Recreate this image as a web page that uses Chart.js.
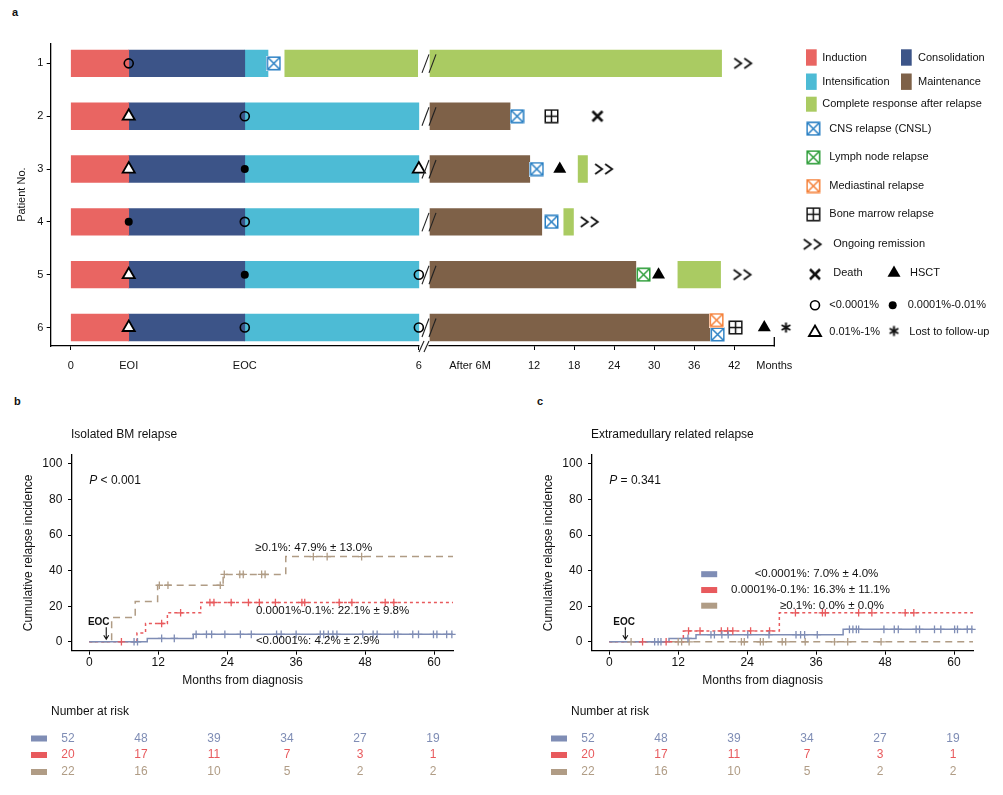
<!DOCTYPE html>
<html>
<head>
<meta charset="utf-8">
<title>MRD swimmer plot and cumulative relapse incidence</title>
<script src="https://cdn.jsdelivr.net/npm/chart.js@4.4.1/dist/chart.umd.min.js"></script>
<style>
  html, body { margin: 0; padding: 0; background: #fff; }
  body { width: 1003px; height: 795px; position: relative; overflow: hidden; font-family: 'Liberation Sans', Arial, sans-serif; }
  .box { position: absolute; }
  .tag { position: absolute; font-size: 11px; font-weight: bold; color: #111; }
</style>
</head>
<body>
<div class="tag" style="left:12px;top:6px">a</div>
<div class="tag" style="left:14px;top:395px">b</div>
<div class="tag" style="left:537px;top:395px">c</div>
<div class="box" style="left:0;top:0"><canvas id="swimEarly" width="432" height="390"></canvas></div>
<div class="box" style="left:414px;top:0"><canvas id="swimLate" width="589" height="390"></canvas></div>
<div class="box" style="left:0;top:390px"><canvas id="bmChart" width="500" height="405"></canvas></div>
<div class="box" style="left:520px;top:390px"><canvas id="emChart" width="483" height="405"></canvas></div>
<script>
// ---------- panel a: swimmer plot ----------
const patients = [1, 2, 3, 4, 5, 6];
const phaseTicks = [0, 1, 3, 6];
const phaseTickLabels = ['0', 'EOI', 'EOC', '6'];
const monthTicks = [2.4, 12, 18, 24, 30, 36, 42, 48];
const monthTickLabels = ['After 6M', '12', '18', '24', '30', '36', '42', 'Months'];

// [start, end, patient] - first 6 months, phase scale
const induction = [[0, 1, 1], [0, 1, 2], [0, 1, 3], [0, 1, 4], [0, 1, 5], [0, 1, 6]];
const consolidation = [[1, 3, 1], [1, 3, 2], [1, 3, 3], [1, 3, 4], [1, 3, 5], [1, 3, 6]];
const intensification = [[3, 3.4, 1], [3, 6, 2], [3, 6, 3], [3, 6, 4], [3, 6, 5], [3, 6, 6]];
const crEarly = [[3.69, 5.98, 1]];
// after 6 months, in months
const maintenance = [[-3.6, 8.4, 2], [-3.6, 11.35, 3], [-3.6, 13.15, 4], [-3.6, 27.25, 5], [-3.6, 38.35, 6]];
const crLate = [[-3.6, 40.1, 1], [18.6, 20.0, 3], [16.45, 17.9, 4], [33.55, 39.95, 5]];

// [time, patient]
const mrdNeg = [[1, 1], [3, 2], [3, 4], [6, 5], [3, 6], [6, 6]];   // <0.0001%
const mrdLow = [[3, 3], [1, 4], [3, 5]];                             // 0.0001%-0.01%
const mrdMid = [[1, 2], [1, 3], [6, 3], [1, 5], [1, 6]];             // 0.01%-1%
const cnsEarly = [[3.5, 1]];
const cnsLate = [[9.45, 2], [12.4, 3], [14.6, 4], [39.5, 6.13]];
const lymphLate = [[28.4, 5]];
const mediastinalLate = [[39.35, 5.86]];
const marrowLate = [[14.6, 2], [42.2, 6]];
const deathLate = [[21.5, 2]];
const hsctLate = [[15.85, 3], [30.65, 5], [46.5, 6]];
const ongoingLate = [[43.35, 1], [22.5, 3], [20.35, 4], [43.25, 5]];
const lostLate = [[49.75, 6]];

// ---------- panels b, c: cumulative relapse incidence ----------
const kmTicks = [0, 12, 24, 36, 48, 60];
const pctTicks = [0, 20, 40, 60, 80, 100];

// [month, %] step points
const bmLow = [[0, 0], [10.1, 1.9], [18.1, 4.2], [63.3, 4.2]];
const bmMid = [[0, 0], [8.3, 5.0], [9.8, 10.3], [13.6, 16.3], [19.4, 22.1], [63.3, 22.1]];
const bmHigh = [[0, 0], [3.9, 13.6], [8.0, 22.7], [11.9, 31.8], [23.3, 37.9], [34.2, 47.9], [63.3, 47.9]];
const bmLowCens = [[7.8, 0], [8.4, 0], [12.6, 1.9], [14.8, 1.9], [18.6, 4.2], [20.4, 4.2], [21.3, 4.2], [23.6, 4.2],
  [26.3, 4.2], [28.2, 4.2], [32.6, 4.2], [33.4, 4.2], [36.0, 4.2], [40.2, 4.2], [40.8, 4.2], [41.6, 4.2], [42.4, 4.2],
  [43.1, 4.2], [47.6, 4.2], [49.4, 4.2], [50.1, 4.2], [53.1, 4.2], [53.7, 4.2], [56.3, 4.2], [57.3, 4.2], [59.9, 4.2],
  [60.5, 4.2], [62.2, 4.2], [63.1, 4.2]];
const bmMidCens = [[5.6, 0], [12.6, 10.3], [15.9, 16.3], [21.0, 22.1], [21.7, 22.1], [24.7, 22.1], [27.7, 22.1],
  [29.6, 22.1], [32.4, 22.1], [37.0, 22.1], [37.5, 22.1], [43.5, 22.1], [45.7, 22.1], [51.5, 22.1], [53.0, 22.1]];
const bmHighCens = [[12.2, 31.8], [13.7, 31.8], [22.8, 31.8], [23.5, 37.9], [26.2, 37.9], [26.8, 37.9], [30.0, 37.9],
  [30.6, 37.9], [39.0, 47.9], [41.4, 47.9], [47.4, 47.9]];

const emLow = [[0, 0], [10.4, 1.9], [15.1, 4.0], [40.7, 7.0], [63.3, 7.0]];
const emMid = [[0, 0], [12.9, 6.1], [29.6, 16.3], [63.3, 16.3]];
const emHigh = [[0, 0], [63.3, 0]];
const emLowCens = [[7.9, 0], [8.5, 0], [9.0, 0], [13.7, 1.9], [17.7, 4.0], [18.3, 4.0], [19.6, 4.0], [20.7, 4.0],
  [24.1, 4.0], [27.8, 4.0], [32.5, 4.0], [33.3, 4.0], [34.0, 4.0], [36.2, 4.0], [41.8, 7.0], [42.4, 7.0], [43.0, 7.0],
  [43.4, 7.0], [47.8, 7.0], [49.6, 7.0], [50.3, 7.0], [53.4, 7.0], [54.0, 7.0], [56.6, 7.0], [57.7, 7.0], [60.1, 7.0],
  [60.6, 7.0], [62.3, 7.0], [63.1, 7.0]];
const emMidCens = [[5.8, 0], [9.9, 0], [13.8, 6.1], [15.8, 6.1], [19.5, 6.1], [20.6, 6.1], [21.5, 6.1], [24.6, 6.1],
  [27.9, 6.1], [32.4, 16.3], [37.1, 16.3], [37.6, 16.3], [43.4, 16.3], [45.7, 16.3], [51.5, 16.3], [53.0, 16.3]];
const emHighCens = [[3.8, 0], [12.0, 0], [12.6, 0], [13.9, 0], [23.0, 0], [23.5, 0], [26.3, 0], [26.8, 0], [30.1, 0],
  [30.7, 0], [34.1, 0], [39.2, 0], [41.5, 0], [47.3, 0]];

const riskLow = [52, 48, 39, 34, 27, 19];
const riskMid = [20, 17, 11, 7, 3, 1];
const riskHigh = [22, 16, 10, 5, 2, 2];

// ---------- styling ----------
const FONT = "'Liberation Sans', Arial, sans-serif";
const INK = '#111';
const COL = {
  induction: '#E96562', consolidation: '#3C5488', intens: '#4DBBD5', maint: '#7E6148', cr: '#AACB62',
  cns: '#2A80C4', lymph: '#2E9E3A', mediastinal: '#F5813A',
  low: '#7F8DB5', mid: '#E85A5D', high: '#B09C85'
};
Chart.defaults.font.family = FONT;
Chart.defaults.color = INK;

function icon(w, h, draw) {
  const c = document.createElement('canvas');
  c.width = w; c.height = h;
  draw(c.getContext('2d'), w, h);
  return c;
}
const boxIcon = (col, plus) => icon(15, 15, g => {
  g.fillStyle = '#fff'; g.fillRect(0, 0, 15, 15);
  g.strokeStyle = col; g.lineWidth = 1.5;
  g.strokeRect(1.25, 1.25, 12.5, 12.5);
  g.beginPath();
  if (plus) { g.moveTo(7.5, 1.5); g.lineTo(7.5, 13.5); g.moveTo(1.5, 7.5); g.lineTo(13.5, 7.5); }
  else { g.moveTo(1.5, 1.5); g.lineTo(13.5, 13.5); g.moveTo(13.5, 1.5); g.lineTo(1.5, 13.5); }
  g.stroke();
});
const ICON = {
  cns: boxIcon(COL.cns), lymph: boxIcon(COL.lymph), mediastinal: boxIcon(COL.mediastinal), marrow: boxIcon('#111', true),
  ongoing: icon(22, 14, g => {
    g.strokeStyle = '#111'; g.lineWidth = 1.8; g.beginPath();
    g.moveTo(2, 2); g.lineTo(9, 7); g.lineTo(2, 12);
    g.moveTo(12, 2); g.lineTo(19, 7); g.lineTo(12, 12); g.stroke();
  }),
  death: icon(14, 14, g => {
    g.strokeStyle = '#111'; g.lineWidth = 2.6; g.beginPath();
    g.moveTo(2, 2); g.lineTo(12, 12); g.moveTo(12, 2); g.lineTo(2, 12); g.stroke();
  }),
  lost: icon(13, 13, g => {
    g.strokeStyle = '#111'; g.lineWidth = 2; g.beginPath();
    for (let k = 0; k < 3; k++) {
      const a = Math.PI / 2 + k * Math.PI / 3;
      g.moveTo(6.5 + 5 * Math.cos(a), 6.5 + 5 * Math.sin(a));
      g.lineTo(6.5 - 5 * Math.cos(a), 6.5 - 5 * Math.sin(a));
    }
    g.stroke();
  })
};

const spanSet = (spans, color) => ({
  type: 'bar', order: 2, data: spans.map(s => ({x: [s[0], s[1]], y: s[2]})),
  backgroundColor: color, borderWidth: 0, barThickness: 26.7, grouped: false
});
const markSet = (pts, style) => Object.assign({
  type: 'scatter', order: 1, clip: false, data: pts.map(p => ({x: p[0], y: p[1]})),
  pointRadius: 5, pointBorderWidth: 0, pointHoverRadius: 5
}, style);
const openCircle = {pointStyle: 'circle', pointRadius: 4.5, pointBorderWidth: 1.6, pointBorderColor: '#000', pointBackgroundColor: 'rgba(0,0,0,0)'};
const dot = {pointStyle: 'circle', pointRadius: 4, pointBackgroundColor: '#000'};
const openTri = {pointStyle: 'triangle', pointRadius: 7, pointBorderWidth: 1.8, pointBorderColor: '#000', pointBackgroundColor: '#fff'};
const solidTri = {pointStyle: 'triangle', pointRadius: 7.5, pointBackgroundColor: '#000'};

const fixedTicks = vals => s => { s.ticks = vals.map(v => ({value: v})); };
const yRows = {
  type: 'linear', reverse: true, min: 0.62, max: 6.35, offset: false,
  afterBuildTicks: fixedTicks(patients),
  ticks: {font: {size: 11}, padding: 3.4},
  grid: {drawOnChartArea: false, offset: false, tickLength: 4, color: '#000'},
  border: {color: '#000', width: 1.3},
  title: {display: true, text: 'Patient No.', font: {size: 11}, padding: {top: 15.4, bottom: 0}},
  afterFit: s => { s.width = 50.7; }
};

new Chart(document.getElementById('swimEarly'), {
  type: 'bar',
  data: {datasets: [
    markSet(mrdNeg, openCircle), markSet(mrdLow, dot), markSet(mrdMid, openTri),
    markSet(cnsEarly, {pointStyle: ICON.cns}),
    spanSet(induction, COL.induction), spanSet(consolidation, COL.consolidation),
    spanSet(intensification, COL.intens), spanSet(crEarly, COL.cr)
  ]},
  options: {
    responsive: false, animation: false, indexAxis: 'y',
    layout: {autoPadding: false, padding: {top: 43.3, left: 0, right: 12, bottom: 0}},
    plugins: {legend: {display: false}, tooltip: {enabled: false}},
    scales: {
      x: {
        type: 'linear', min: -0.345, max: 6.02,
        afterBuildTicks: fixedTicks(phaseTicks),
        ticks: {callback: (v, i) => phaseTickLabels[i], font: {size: 11}, padding: 9.4, maxRotation: 0, autoSkip: false},
        grid: {drawOnChartArea: false, tickLength: 4,
          color: c => (c.tick && (c.tick.value === 0 || c.tick.value === 6)) ? '#000' : 'rgba(0,0,0,0)'},
        border: {color: '#000', width: 1.3},
        afterFit: s => { s.height = 44; }
      },
      y: yRows
    }
  }
});

const LATE_X0 = 414;
const lateDecor = {
  id: 'lateDecor',
  afterDatasetsDraw(chart) {
    const {ctx, chartArea: area, scales: {x, y}} = chart;
    ctx.save();
    ctx.strokeStyle = '#222';
    ctx.lineWidth = 1.1;
    patients.forEach(p => {
      const cy = y.getPixelForValue(p);
      [2, 9].forEach(dx => {
        ctx.beginPath();
        ctx.moveTo(area.left + dx, cy + 9.5);
        ctx.lineTo(area.left + dx + 7, cy - 9);
        ctx.stroke();
      });
    });
    // axis break and end bracket
    const by = area.bottom;
    ctx.fillStyle = '#fff';
    ctx.fillRect(area.left - 0.5, by - 2, 9, 4);
    [-1, 4].forEach(dx => {
      ctx.beginPath();
      ctx.moveTo(area.left + dx, by + 6);
      ctx.lineTo(area.left + dx + 5, by - 5);
      ctx.stroke();
    });
    const ex = x.getPixelForValue(48);
    ctx.strokeStyle = '#000';
    ctx.lineWidth = 1.3;
    ctx.beginPath();
    ctx.moveTo(ex, by + 0.6);
    ctx.lineTo(ex, by - 9);
    ctx.stroke();
    ctx.restore();
  },
  afterDraw(chart) {
    const ctx = chart.ctx;
    const o = -LATE_X0;
    ctx.save();
    ctx.font = `11px ${FONT}`;
    ctx.fillStyle = INK;
    ctx.textBaseline = 'middle';
    ctx.textAlign = 'left';
    const swatches = [
      [806, 49.3, 16.4, COL.induction, 'Induction', 822.3, 57.5],
      [901, 49.3, 16.4, COL.consolidation, 'Consolidation', 918, 57.5],
      [806, 73.5, 16.4, COL.intens, 'Intensification', 822.3, 81.7],
      [901, 73.5, 16.4, COL.maint, 'Maintenance', 918, 81.7],
      [806, 96.7, 15, COL.cr, 'Complete response after relapse', 822.3, 104]
    ];
    swatches.forEach(s => {
      ctx.fillStyle = s[3];
      ctx.fillRect(s[0] + o, s[1], 10.7, s[2]);
      ctx.fillStyle = INK;
      ctx.fillText(s[4], s[5] + o, s[6]);
    });
    const icons = [
      [ICON.cns, 813.3, 128.7, 'CNS relapse (CNSL)', 829.3],
      [ICON.lymph, 813.3, 157.3, 'Lymph node relapse', 829.3],
      [ICON.mediastinal, 813.3, 186, 'Mediastinal relapse', 829.3],
      [ICON.marrow, 813.3, 214.3, 'Bone marrow relapse', 829.3],
      [ICON.ongoing, 812.7, 244.3, 'Ongoing remission', 833.3],
      [ICON.death, 815, 274.3, 'Death', 833.3],
      [ICON.lost, 894, 331, 'Lost to follow-up', 909.3]
    ];
    icons.forEach(s => {
      ctx.drawImage(s[0], s[1] + o - s[0].width / 2, s[2] - s[0].height / 2);
      ctx.fillText(s[3], s[4] + o, s[0] === ICON.death ? 272.7 : (s[0] === ICON.lost ? 331.7 : s[2]));
    });
    const tri = (cx, cy, r) => {
      ctx.beginPath();
      for (let k = 0; k < 3; k++) {
        const a = k * 2 * Math.PI / 3;
        const px = cx + Math.sin(a) * r, py = cy - Math.cos(a) * r;
        if (k === 0) ctx.moveTo(px, py); else ctx.lineTo(px, py);
      }
      ctx.closePath();
    };
    // HSCT
    tri(894 + o, 273, 7.5);
    ctx.fillStyle = '#000'; ctx.fill();
    ctx.fillStyle = INK; ctx.fillText('HSCT', 910 + o, 272.7);
    // MRD symbols
    ctx.strokeStyle = '#000';
    ctx.lineWidth = 1.6;
    ctx.beginPath(); ctx.arc(815 + o, 305.3, 4.5, 0, Math.PI * 2); ctx.stroke();
    ctx.fillText('<0.0001%', 829.3 + o, 305.3);
    ctx.beginPath(); ctx.arc(892.7 + o, 305.3, 4, 0, Math.PI * 2); ctx.fillStyle = '#000'; ctx.fill();
    ctx.fillStyle = INK; ctx.fillText('0.0001%-0.01%', 907.7 + o, 305.3);
    tri(815 + o, 332.5, 7);
    ctx.fillStyle = '#fff'; ctx.fill(); ctx.lineWidth = 1.8; ctx.stroke();
    ctx.fillStyle = INK; ctx.fillText('0.01%-1%', 829.3 + o, 331.7);
    ctx.restore();
  }
};

new Chart(document.getElementById('swimLate'), {
  type: 'bar',
  data: {datasets: [
    markSet(mediastinalLate, {pointStyle: ICON.mediastinal}),
    markSet(cnsLate, {pointStyle: ICON.cns}),
    markSet(lymphLate, {pointStyle: ICON.lymph}),
    markSet(marrowLate, {pointStyle: ICON.marrow}),
    markSet(deathLate, {pointStyle: ICON.death}),
    markSet(hsctLate, solidTri),
    markSet(ongoingLate, {pointStyle: ICON.ongoing}),
    // large radius so the mark past the axis end is not culled
    markSet(lostLate, {pointStyle: ICON.lost, pointRadius: 16}),
    spanSet(maintenance, COL.maint), spanSet(crLate, COL.cr)
  ]},
  options: {
    responsive: false, animation: false, indexAxis: 'y',
    layout: {autoPadding: false, padding: {top: 43.3, left: 6, right: 228.7, bottom: 0}},
    plugins: {legend: {display: false}, tooltip: {enabled: false}},
    scales: {
      x: {
        type: 'linear', min: -5.1, max: 48,
        afterBuildTicks: fixedTicks(monthTicks),
        ticks: {callback: (v, i) => monthTickLabels[i], font: {size: 11}, padding: 9.4, maxRotation: 0, autoSkip: false},
        grid: {drawOnChartArea: false, tickLength: 4,
          color: c => (c.tick && c.tick.value >= 12 && c.tick.value <= 42) ? '#000' : 'rgba(0,0,0,0)'},
        border: {color: '#000', width: 1.3},
        afterFit: s => { s.height = 44; }
      },
      y: Object.assign({}, yRows, {display: false, afterFit: s => { s.width = 0; }})
    }
  },
  plugins: [lateDecor]
});

// ---------- KM panels ----------
const stepSet = (pts, color, dash) => ({
  type: 'line', data: pts.map(p => ({x: p[0], y: p[1]})), stepped: true,
  borderColor: color, borderWidth: 1.5, borderDash: dash, borderCapStyle: 'butt',
  pointRadius: 0, fill: false, tension: 0
});
const censSet = (pts, color) => ({
  type: 'scatter', data: pts.map(p => ({x: p[0], y: p[1]})), clip: false,
  pointStyle: 'cross', pointRadius: 3.8, pointBorderWidth: 1.3, pointBorderColor: color, pointBackgroundColor: color
});

function kmText(cfg) {
  return {
    id: 'kmText',
    afterDraw(chart) {
      const {ctx, chartArea: area, scales: {x, y}} = chart;
      ctx.save();
      ctx.fillStyle = INK;
      ctx.textBaseline = 'middle';
      ctx.textAlign = 'left';
      ctx.font = `12px ${FONT}`;
      ctx.fillText(cfg.title, 71, 45);
      const px = x.getPixelForValue(0), py = y.getPixelForValue(90.7);
      ctx.font = `italic 12px ${FONT}`;
      ctx.fillText('P', px, py);
      const w = ctx.measureText('P').width;
      ctx.font = `12px ${FONT}`;
      ctx.fillText(cfg.pText, px + w, py);
      ctx.textAlign = 'center';
      ctx.fillText('Months from diagnosis', x.getPixelForValue(26.7), area.bottom + 30.3);
      // curve annotations
      ctx.textAlign = 'left';
      ctx.font = `11.5px ${FONT}`;
      cfg.notes.forEach(n => {
        if (n[3]) {
          ctx.fillStyle = n[3];
          ctx.fillRect(x.getPixelForValue(16.0), y.getPixelForValue(n[2]) - 3, 16, 6);
          ctx.fillStyle = INK;
        }
        ctx.fillText(n[0], x.getPixelForValue(n[1]), y.getPixelForValue(n[2]));
      });
      // EOC marker
      ctx.font = `bold 10px ${FONT}`;
      ctx.textAlign = 'center';
      ctx.fillText('EOC', x.getPixelForValue(cfg.eocText), y.getPixelForValue(11));
      const ax = x.getPixelForValue(cfg.eocArrow);
      const y1 = y.getPixelForValue(8.2), y2 = y.getPixelForValue(1.4);
      ctx.strokeStyle = INK;
      ctx.lineWidth = 1.1;
      ctx.beginPath();
      ctx.moveTo(ax, y1); ctx.lineTo(ax, y2);
      ctx.moveTo(ax - 2.5, y2 - 4); ctx.lineTo(ax, y2); ctx.lineTo(ax + 2.5, y2 - 4);
      ctx.stroke();
      // number at risk
      ctx.font = `12px ${FONT}`;
      ctx.textAlign = 'left';
      ctx.fillText('Number at risk', 51, 322);
      ctx.textAlign = 'center';
      [[riskLow, COL.low, 348.5], [riskMid, COL.mid, 365], [riskHigh, COL.high, 382]].forEach(r => {
        ctx.fillStyle = r[1];
        ctx.fillRect(31, r[2] - 3, 16, 6);
        r[0].forEach((v, i) => ctx.fillText(String(v), 68 + 73 * i, r[2]));
      });
      ctx.restore();
    }
  };
}

function kmChart(id, cfg, padRight) {
  return new Chart(document.getElementById(id), {
    type: 'scatter',
    data: {datasets: [
      censSet(cfg.cens[0], COL.low), censSet(cfg.cens[1], COL.mid), censSet(cfg.cens[2], COL.high),
      stepSet(cfg.curves[0], COL.low, []), stepSet(cfg.curves[1], COL.mid, [3, 3]), stepSet(cfg.curves[2], COL.high, [7, 5])
    ]},
    options: {
      responsive: false, animation: false,
      layout: {autoPadding: false, padding: {top: 65, left: 0, right: padRight, bottom: 99.3}},
      plugins: {legend: {display: false}, tooltip: {enabled: false}},
      scales: {
        x: {
          type: 'linear', min: -3, max: 63.3,
          afterBuildTicks: fixedTicks(kmTicks),
          ticks: {font: {size: 12}, padding: 0.8, maxRotation: 0, autoSkip: false},
          grid: {drawOnChartArea: false, tickLength: 4, color: '#000'},
          border: {color: '#000', width: 1.3},
          afterFit: s => { s.height = 45; }
        },
        y: {
          type: 'linear', min: -5, max: 105,
          afterBuildTicks: fixedTicks(pctTicks),
          ticks: {font: {size: 12}, padding: 5.7},
          grid: {drawOnChartArea: false, tickLength: 4, color: '#000'},
          border: {color: '#000', width: 1.3},
          title: {display: true, text: 'Cumulative relapse incidence', font: {size: 12}, padding: {top: 21, bottom: 0}},
          afterFit: s => { s.width = 72; }
        }
      }
    },
    plugins: [kmText(cfg)]
  });
}

kmChart('bmChart', {
  title: 'Isolated BM relapse', pText: ' < 0.001',
  curves: [bmLow, bmMid, bmHigh], cens: [bmLowCens, bmMidCens, bmHighCens],
  notes: [['\u22650.1%: 47.9% \u00b1 13.0%', 28.9, 53.0], ['0.0001%-0.1%: 22.1% \u00b1 9.8%', 29.0, 17.3],
    ['<0.0001%: 4.2% \u00b1 2.9%', 29.0, 0.6]],
  eocText: 1.65, eocArrow: 2.96
}, 47);

kmChart('emChart', {
  title: 'Extramedullary related relapse', pText: ' = 0.341',
  curves: [emLow, emMid, emHigh], cens: [emLowCens, emMidCens, emHighCens],
  notes: [['<0.0001%: 7.0% \u00b1 4.0%', 25.3, 38.0, COL.low], ['0.0001%-0.1%: 16.3% \u00b1 11.1%', 21.2, 29.1, COL.mid],
    ['\u22650.1%: 0.0% \u00b1 0.0%', 29.7, 20.3, COL.high]],
  eocText: 2.6, eocArrow: 2.8
}, 30);
</script>
</body>
</html>
